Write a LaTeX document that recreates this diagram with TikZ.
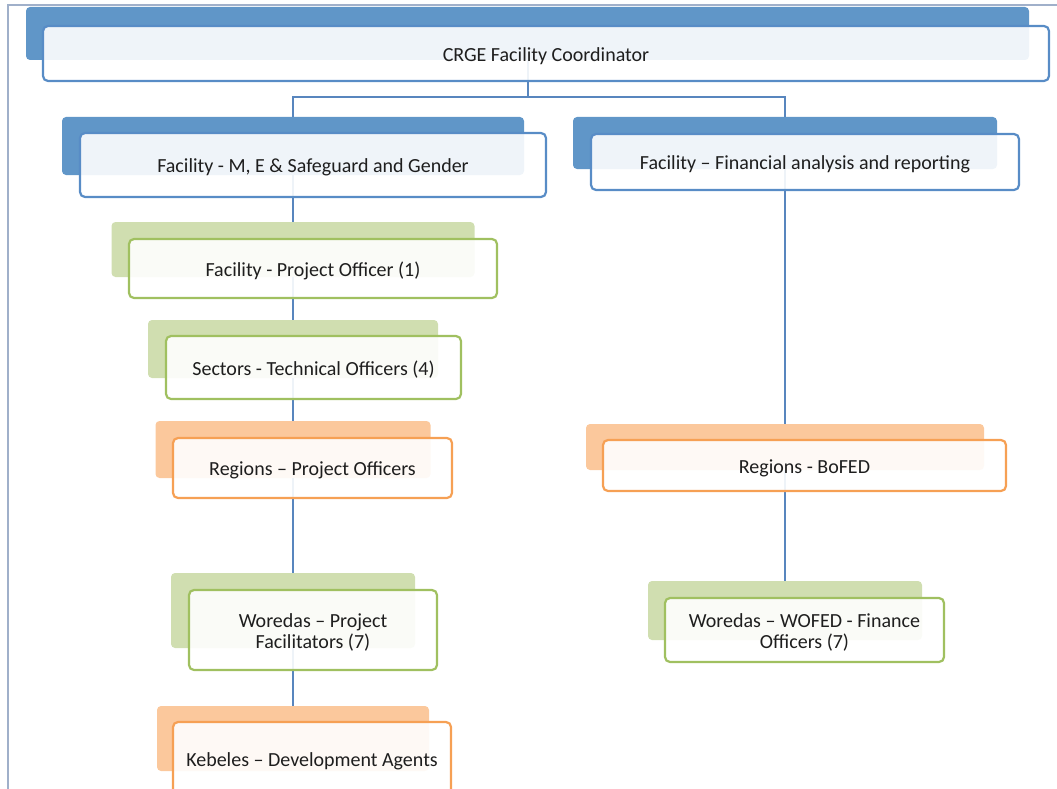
\documentclass[tikz,border=0pt]{standalone}
\usepackage{fontspec}
\setmainfont{Carlito}
\usetikzlibrary{calc}
\definecolor{blueback}{RGB}{96,150,200}
\definecolor{blueline}{RGB}{88,140,198}
\definecolor{greenback}{RGB}{208,222,176}
\definecolor{greenline}{RGB}{160,192,96}
\definecolor{orangeback}{RGB}{251,200,156}
\definecolor{orangeline}{RGB}{246,160,84}
\definecolor{connc}{RGB}{88,134,190}
\definecolor{framec}{RGB}{160,176,202}
\definecolor{txt}{RGB}{30,30,30}
\newcommand{\boxtxt}[1]{\raisebox{-3.5pt}[\height][\depth]{\begin{tabular}{@{}c@{}}#1\end{tabular}}}
\tikzset{
  backbox/.style={rounded corners=4pt, inner sep=0pt, draw=none, fill=#1},
  frontbox/.style={rounded corners=5pt, inner sep=0pt, draw=#1, line width=2.2pt,
     fill=white, fill opacity=0.9, text opacity=1, text=txt,
     font=\fontsize{20}{21.5}\selectfont},
  conn/.style={draw=connc, line width=2pt}
}
\begin{document}
\begin{tikzpicture}[x=1pt,y=-1pt]
\useasboundingbox (0,0) rectangle (1057,789);
% frame
\draw[framec, line width=1.5pt] (8,789) -- (8,5) -- (1057,5);

% back boxes
\node[backbox=blueback, minimum width=1003, minimum height=53] (crgeB) at (527.5,33.5) {};
\node[backbox=blueback, minimum width=462, minimum height=58] (meB) at (293,146) {};
\node[backbox=blueback, minimum width=424, minimum height=52] (finB) at (785,143) {};
\node[backbox=greenback, minimum width=363, minimum height=55] (poB) at (293,249.5) {};
\node[backbox=greenback, minimum width=290, minimum height=58] (secB) at (293,349) {};
\node[backbox=orangeback, minimum width=275, minimum height=57] (rpoB) at (293,449.5) {};
\node[backbox=greenback, minimum width=244, minimum height=75] (wpfB) at (293,610.5) {};
\node[backbox=orangeback, minimum width=272, minimum height=65] (kebB) at (293,738.5) {};
\node[backbox=orangeback, minimum width=398, minimum height=46] (bofB) at (785,447) {};
\node[backbox=greenback, minimum width=274, minimum height=59] (wofB) at (785,610.5) {};

% connectors
\draw[conn] (crgeB.south) -- ++(0,37) coordinate (j);
\draw[conn] (j) -| (meB.north);
\draw[conn] (j) -| (finB.north);
\draw[conn] (meB.south) -- (poB.north);
\draw[conn] (poB.south) -- (secB.north);
\draw[conn] (secB.south) -- (rpoB.north);
\draw[conn] (rpoB.south) -- (wpfB.north);
\draw[conn] (wpfB.south) -- (kebB.north);
\draw[conn] (finB.south) -- (bofB.north);
\draw[conn] (bofB.south) -- (wofB.north);

% front boxes
\node[frontbox=blueline, minimum width=1006, minimum height=55] (crgeF) at (546,53.5) {\boxtxt{CRGE Facility Coordinator}};
\node[frontbox=blueline, minimum width=466, minimum height=64] (meF) at (313,165) {\boxtxt{Facility - M, E \& Safeguard and Gender}};
\node[frontbox=blueline, minimum width=428, minimum height=56] (finF) at (805,162) {\boxtxt{Facility -- Financial analysis and reporting}};
\node[frontbox=greenline, minimum width=368, minimum height=59] (poF) at (313,268.5) {\boxtxt{Facility - Project Officer (1)}};
\node[frontbox=greenline, minimum width=295, minimum height=63] (secF) at (313.5,367.5) {\boxtxt{Sectors - Technical Officers (4)}};
\node[frontbox=orangeline, minimum width=279, minimum height=60] (rpoF) at (312.5,468) {\boxtxt{Regions -- Project Officers}};
\node[frontbox=greenline, minimum width=248, minimum height=80] (wpfF) at (313,630) {\boxtxt{Woredas -- Project\\Facilitators (7)}};
\node[frontbox=orangeline, minimum width=278, minimum height=74] (kebF) at (312,759) {\boxtxt{Kebeles -- Development Agents}};
\node[frontbox=orangeline, minimum width=403, minimum height=51] (bofF) at (804.5,465.5) {\boxtxt{Regions - BoFED}};
\node[frontbox=greenline, minimum width=279, minimum height=64] (wofF) at (804.5,630) {\boxtxt{Woredas -- WOFED - Finance\\Officers (7)}};
\end{tikzpicture}
\end{document}
